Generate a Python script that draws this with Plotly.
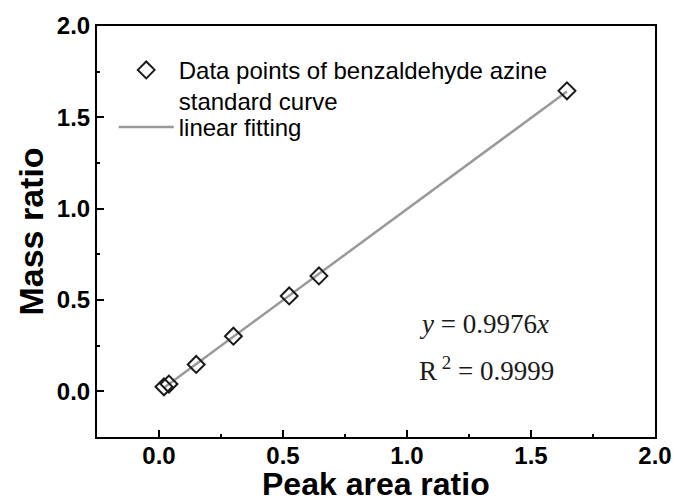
import plotly.graph_objects as go

# Calibration data: peak area ratio vs. mass ratio
peak_area_ratio = [0.02, 0.04, 0.15, 0.30, 0.525, 0.645, 1.645]
mass_ratio = [0.025, 0.04, 0.147, 0.302, 0.522, 0.632, 1.645]

# Linear fit through the origin
slope = 0.9976
r_squared = "0.9999"

x_ticks = [0.0, 0.5, 1.0, 1.5, 2.0]
y_ticks = [0.0, 0.5, 1.0, 1.5, 2.0]

fit_x = [min(peak_area_ratio), max(peak_area_ratio)]
fit_y = [slope * v for v in fit_x]

fig = go.Figure()

# fit line first so the markers sit on top of it
fig.add_trace(go.Scatter(
    x=fit_x, y=fit_y, mode="lines", name="linear fitting",
    line=dict(color="#999999", width=2.5), legend="legend2",
))
fig.add_trace(go.Scatter(
    x=peak_area_ratio, y=mass_ratio, mode="markers",
    name="Data points of benzaldehyde azine<br>standard curve",
    marker=dict(symbol="diamond-open", size=13, color="#1a1a1a",
                line=dict(width=2, color="#1a1a1a")),
    legend="legend",
))

axis_common = dict(
    showline=True, linecolor="black", linewidth=2, mirror=True,
    ticks="inside", ticklen=7, tickwidth=2, tickcolor="black",
    showgrid=False, zeroline=False, automargin=False,
    tickfont=dict(family="Liberation Sans", size=24, color="black", weight="bold"),
    tickformat=".1f",
    minor=dict(ticks="inside", ticklen=3, tickwidth=2, tickcolor="black", dtick=0.25, showgrid=False),
)

fig.update_xaxes(range=[-0.25, 2.0], tickvals=x_ticks, ticklabelstandoff=-4, **axis_common)
fig.update_yaxes(range=[-0.25, 2.0], tickvals=y_ticks, **axis_common)

# axis titles
fig.add_annotation(
    xref="paper", yref="paper", x=0.5, y=-0.114, xanchor="center", yanchor="middle",
    text="<b>Peak area ratio</b>", showarrow=False, borderpad=0,
    font=dict(family="Liberation Sans", size=32, color="black"),
)
fig.add_annotation(
    xref="paper", yref="paper", x=-0.12, y=0.5, xanchor="center", yanchor="middle",
    text="<b>Mass ratio</b>", showarrow=False, textangle=-90,
    font=dict(family="Liberation Sans", size=34, color="black"),
)

eq_font = dict(family="Liberation Serif", size=27, color="#1a1a1a")
fig.add_annotation(
    xref="x", yref="y", x=1.04, y=0.37, xanchor="left", yanchor="middle",
    text=f"<i>y</i> = {slope}<i>x</i>", showarrow=False, font=eq_font,
)
fig.add_annotation(
    xref="x", yref="y", x=1.04, y=0.12, xanchor="left", yanchor="middle",
    text=f"R<sup> 2</sup> = {r_squared}", showarrow=False, font=eq_font,
)

legend_font = dict(family="Liberation Sans", size=24, color="black")
fig.update_layout(
    width=677, height=504,
    margin=dict(l=97, r=22, t=26, b=67),
    paper_bgcolor="white", plot_bgcolor="white",
    showlegend=True,
    legend=dict(
        x=0.03, y=0.947, xanchor="left", yanchor="top",
        bgcolor="rgba(0,0,0,0)", borderwidth=0,
        font=legend_font, itemwidth=55, valign="top",
    ),
    legend2=dict(
        x=0.03, y=0.808, xanchor="left", yanchor="top",
        bgcolor="rgba(0,0,0,0)", borderwidth=0,
        font=legend_font, itemwidth=55,
    ),
)

fig.write_html("out.html")
